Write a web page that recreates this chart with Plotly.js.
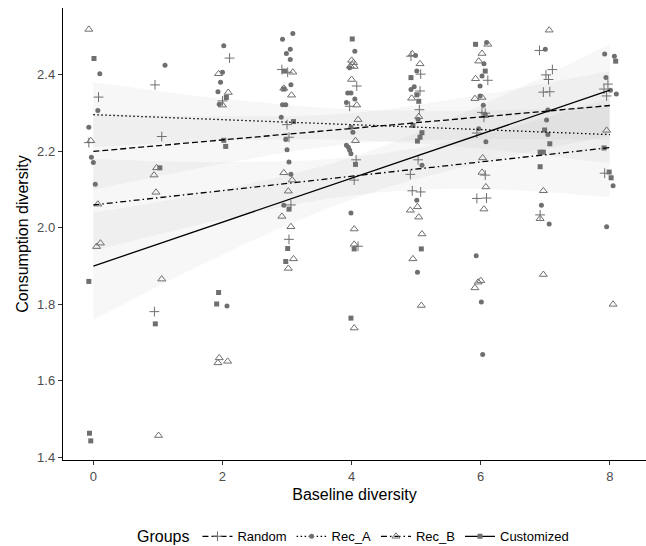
<!DOCTYPE html>
<html>
<head>
<meta charset="utf-8">
<script src="https://cdn.plot.ly/plotly-3.0.1.min.js"></script>
<style>html,body{margin:0;padding:0;background:#fff;}#chart{width:646px;height:546px;}</style>
</head>
<body>
<div id="chart"></div>
<script>
// ---- data (jittered points) ----
var groups = ["Random", "Rec_A", "Rec_B", "Customized"];

var randomX = [0.08,-0.07, 0.955,1.06,0.946, 2.11,2.0, 2.92,3.01,3.0,3.03,3.06,3.03, 4.08,3.97,4.07,4.04,4.10, 4.92,5.07,5.06,5.05,5.03,4.91,4.94,5.07, 6.11,6.02,6.07,6.05,5.94,6.07,5.94,6.09, 6.91,7.11,7.01,7.05,6.97,7.07,6.92, 7.97,7.91,7.95,7.92];
var randomY = [2.342,2.223, 2.374,2.239,1.781, 2.444,2.332, 2.414,2.407,2.270,2.237,2.060,1.970, 2.371,2.318,2.178,2.125,1.952, 2.449,2.402,2.358,2.309,2.178,2.140,2.097,2.094, 2.386,2.302,2.300,2.289,2.248,2.138,2.077,2.078, 2.464,2.414,2.400,2.388,2.355,2.356,2.034, 2.376,2.363,2.345,2.143];

var recAX = [0.10,0.07,-0.07,-0.03,0.0,0.03, 1.11, 2.02,2.0,1.97,1.93,1.95,2.07, 3.09,2.93,3.05,2.99,3.05,3.06,2.93,2.98,2.91,2.98,3.0,3.03,3.06,2.95, 4.05,3.97,3.94,3.99,4.05,3.92,3.99,4.02,3.92,3.95,3.97,3.99,3.99, 4.99,5.01,4.97,4.92,5.03,5.09,5.01,5.02, 6.09,6.05,6.02,5.99,5.99,6.04,5.97,6.08,5.93,6.01,6.03, 7.0,7.04,7.02,7.04,6.94,7.06, 7.92,8.07,7.94,8.01,8.10,8.05,7.95];
var recAY = [2.403,2.307,2.263,2.185,2.171,2.114, 2.425, 2.476,2.407,2.381,2.356,2.323,1.796, 2.508,2.493,2.467,2.456,2.440,2.374,2.322,2.322,2.289,2.231,2.204,2.172,2.140,2.059, 2.462,2.419,2.353,2.353,2.337,2.328,2.263,2.250,2.216,2.211,2.203,2.194,2.039, 2.451,2.410,2.369,2.362,2.284,2.164,2.072,1.884, 2.485,2.429,2.397,2.371,2.345,2.321,2.259,2.225,1.927,1.806,1.669, 2.467,2.308,2.282,2.244,2.059,2.010, 2.455,2.449,2.393,2.360,2.350,2.110,2.003];

var recBX = [-0.07,-0.04,0.07,0.05,0.11, 0.98,0.94,0.97,1.06,1.01, 1.94,2.09,2.0,1.95,1.93,2.08, 3.09,2.95,3.07,2.95,3.08,3.02,2.92,3.06,3.1,3.02, 4.0,4.03,3.98,4.04,4.0,4.08,4.10,4.06,4.04,4.04,4.04, 4.94,5.06,4.93,5.04,4.91,5.02,5.04,5.09,4.95,5.08, 6.11,6.02,5.97,5.92,5.91,6.02,6.03,6.02,6.08,6.05,5.91,5.96,6.0, 7.06,6.97,6.92,6.97, 7.95,8.05];
var recBY = [2.519,2.228,2.062,1.951,1.960, 2.157,2.138,2.093,1.866,1.457, 2.403,2.354,2.321,1.660,1.647,1.651, 2.407,2.365,2.347,2.144,2.125,2.096,2.030,2.003,1.919,1.894, 2.438,2.432,2.423,2.422,2.388,2.321,2.283,2.228,1.997,1.957,1.738, 2.455,2.429,2.339,2.291,2.046,2.055,2.028,1.984,1.919,1.797, 2.480,2.456,2.436,2.390,2.338,2.341,2.183,2.145,2.107,2.049,1.843,1.858,1.862, 2.517,2.097,2.024,1.878, 2.255,1.800];

var custX = [0.01,-0.07,-0.06,-0.04, 1.03,0.96, 2.06,2.02,2.05,1.94,1.91, 2.96,2.95,3.10,3.03,3.01,2.98, 4.01,4.06,4.04,3.99, 4.92,5.01,5.04,4.95,5.09,5.06,5.02,5.08, 5.92,6.07,6.07, 6.99,7.07,6.92,6.97,6.92, 8.09,7.91,7.99,8.02];
var custY = [2.443,1.860,1.463,1.443, 2.157,1.749, 2.341,2.229,2.213,1.831,1.801, 2.410,2.363,2.278,2.049,1.946,1.912, 2.494,2.166,1.945,1.764, 2.393,2.348,2.331,2.268,2.249,2.237,2.227,1.945, 2.480,2.410,2.294, 2.256,2.220,2.198,2.198,2.160, 2.436,2.209,2.146,2.131];

// fitted lines (values at x = 0 and x = 8)
var fitX = [0, 8];
var randomFit = [2.200, 2.320];
var recAFit = [2.296, 2.244];
var recBFit = [2.060, 2.210];
var custFit = [1.900, 2.360];

// confidence bands at x = 0,2,4,6,8
var bandX = [0, 2, 4, 6, 8];
var randomLo = [2.100, 2.168, 2.220, 2.232, 2.230];
var randomHi = [2.300, 2.292, 2.300, 2.348, 2.410];
var recALo = [2.211, 2.228, 2.230, 2.207, 2.169];
var recAHi = [2.381, 2.338, 2.310, 2.307, 2.319];
var recBLo = [1.940, 2.022, 2.085, 2.102, 2.080];
var recBHi = [2.180, 2.172, 2.185, 2.242, 2.340];
var custLo = [1.760, 1.930, 2.075, 2.170, 2.240];
var custHi = [2.040, 2.100, 2.185, 2.320, 2.480];

// ---- styling ----
var ptColor = "#6f6f6f";
var symbols = ["cross-thin-open", "circle", "triangle-up-open", "square"];
var sizes = [7, 5, 7, 5];
var dashes = ["6px,3px", "1.5px,2.5px", "6px,3px,1.5px,3px", "solid"];
var xs = [randomX, recAX, recBX, custX];
var ys = [randomY, recAY, recBY, custY];
var fits = [randomFit, recAFit, recBFit, custFit];
var los = [randomLo, recALo, recBLo, custLo];
var his = [randomHi, recAHi, recBHi, custHi];

var traces = [];
// bands: lower edge, then upper edge filled down to it
for (var g = 0; g < 4; g++) {
  traces.push({
    x: bandX, y: los[g], type: "scatter", mode: "lines",
    line: {width: 0, shape: "spline", color: "rgba(0,0,0,0)"},
    hoverinfo: "skip", showlegend: false
  });
  traces.push({
    x: bandX, y: his[g], type: "scatter", mode: "lines", fill: "tonexty",
    fillcolor: "rgba(153,153,153,0.08)",
    line: {width: 0, shape: "spline", color: "rgba(0,0,0,0)"},
    hoverinfo: "skip", showlegend: false
  });
}
// points
for (var g = 0; g < 4; g++) {
  var mk = {symbol: symbols[g], size: sizes[g], color: ptColor};
  if (symbols[g].indexOf("open") >= 0) mk.line = {color: ptColor, width: 1};
  traces.push({
    x: xs[g], y: ys[g], type: "scatter", mode: "markers",
    marker: mk, showlegend: false, name: groups[g]
  });
}
// fit lines
for (var g = 0; g < 4; g++) {
  traces.push({
    x: fitX, y: fits[g], type: "scatter", mode: "lines",
    line: {color: "#000", width: 1.3, dash: dashes[g]},
    showlegend: false
  });
}
// legend entries
for (var g = 0; g < 4; g++) {
  var mk2 = {symbol: symbols[g], size: sizes[g], color: ptColor};
  if (symbols[g].indexOf("open") >= 0) mk2.line = {color: ptColor, width: 1};
  traces.push({
    x: [null], y: [null], type: "scatter", mode: "lines+markers",
    name: groups[g], marker: mk2,
    line: {color: "#000", width: 1.3, dash: dashes[g]},
    showlegend: true
  });
}

var font = "Liberation Sans, Arial, Helvetica, sans-serif";
var layout = {
  width: 646, height: 546,
  margin: {l: 63, r: 0, t: 8, b: 86, autoexpand: false},
  paper_bgcolor: "#fff", plot_bgcolor: "#fff",
  font: {family: font, color: "#000"},
  xaxis: {
    range: [-0.47, 8.56], tickvals: [0, 2, 4, 6, 8],
    showgrid: false, zeroline: false,
    showline: true, linecolor: "#000", linewidth: 1.2,
    ticks: "outside", ticklen: 4, tickcolor: "#333", tickwidth: 1,
    tickfont: {size: 13, color: "#4d4d4d", family: font},
    title: {text: "Baseline diversity", font: {size: 16, color: "#000"}, standoff: 6}
  },
  yaxis: {
    range: [1.393, 2.575], tickvals: [1.4, 1.6, 1.8, 2.0, 2.2, 2.4], tickformat: ".1f",
    showgrid: false, zeroline: false,
    showline: true, linecolor: "#000", linewidth: 1.2,
    ticks: "outside", ticklen: 4, tickcolor: "#333", tickwidth: 1,
    tickfont: {size: 13, color: "#4d4d4d", family: font},
    title: {text: "Consumption diversity", font: {size: 16, color: "#000"}, standoff: 4}
  },
  showlegend: true,
  legend: {
    orientation: "h", x: 0.5, xanchor: "center", y: -0.17, yanchor: "middle",
    traceorder: "normal",
    title: {text: "Groups", font: {size: 16, color: "#000"}, side: "left"},
    font: {size: 13, color: "#000", family: font},
    itemwidth: 30, tracegroupgap: 0
  }
};

Plotly.newPlot("chart", traces, layout, {displayModeBar: false, staticPlot: true});
</script>
</body>
</html>
